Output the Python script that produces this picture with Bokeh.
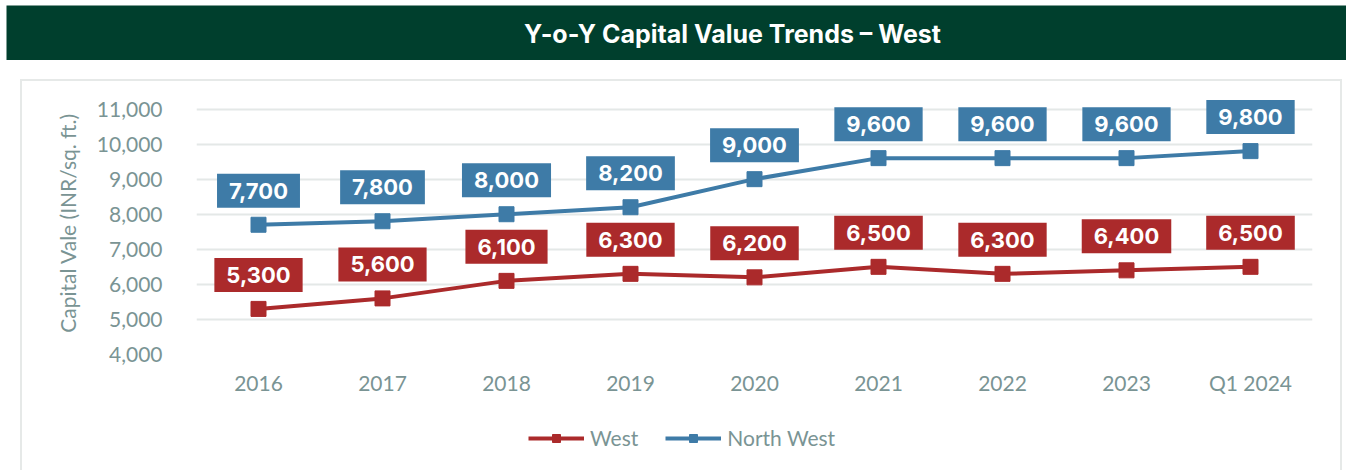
from bokeh.plotting import figure
from bokeh.models import (ColumnDataSource, Legend, LegendItem, FixedTicker,
                          NumeralTickFormatter, Label, Range1d)
from bokeh.core.properties import value
from bokeh.layouts import column
from bokeh.embed import file_html
from bokeh.resources import INLINE

categories = ["2016", "2017", "2018", "2019", "2020", "2021", "2022", "2023", "Q1 2024"]
west = [5300, 5600, 6100, 6300, 6200, 6500, 6300, 6400, 6500]
north_west = [7700, 7800, 8000, 8200, 9000, 9600, 9600, 9600, 9800]
y_ticks = [4000, 5000, 6000, 7000, 8000, 9000, 10000, 11000]
series_names = ["West", "North West"]

GREEN = "#003F2D"
RED = "#AB2A2B"
BLUE = "#3E7BA7"
GRAY = "#7A9494"
GRID = "#E4E8E7"
LABEL_FONT = "Lato"
BOLD_FONT = "Inter"

# Title bar
tf = figure(width=1340, height=55, toolbar_location=None, output_backend="svg",
            x_range=Range1d(0, 1340), y_range=Range1d(0, 55), min_border=0,
            x_axis_type=None, y_axis_type=None, frame_align=False,
            margin=(5, 0, 0, 6))
tf.outline_line_color = None
tf.background_fill_color = GREEN
tf.border_fill_color = GREEN
tf.xgrid.visible = False
tf.ygrid.visible = False
tf.add_layout(Label(x=726, y=27,
                    text="Y-o-Y Capital Value Trends \u2013 West",
                    text_align="center", text_baseline="middle",
                    text_font=BOLD_FONT, text_font_style="bold",
                    text_font_size="25px", text_color="white"))

# Main chart
p = figure(x_range=categories, y_range=Range1d(4000, 11500),
           frame_width=1116, frame_height=263,
           min_border_left=174, min_border_right=28, min_border_top=10, min_border_bottom=56,
           toolbar_location=None, output_backend="svg", frame_align=False)
p.outline_line_color = None
p.background_fill_color = "white"
p.border_fill_color = "white"
p.xgrid.visible = False
p.ygrid.grid_line_color = GRID
p.ygrid.grid_line_width = 2
p.yaxis.ticker = FixedTicker(ticks=y_ticks)
p.ygrid.ticker = FixedTicker(ticks=y_ticks)
p.yaxis.formatter = NumeralTickFormatter(format="0,0")

for ax in (p.xaxis[0], p.yaxis[0]):
    ax.axis_line_color = None
    ax.major_tick_line_color = None
    ax.minor_tick_line_color = None
    ax.major_label_text_font = LABEL_FONT
    ax.major_label_text_font_size = "21px"
    ax.major_label_text_color = GRAY
p.yaxis.major_label_standoff = 28
p.xaxis.major_label_standoff = 9
p.yaxis.axis_label = "Capital Vale (INR/sq. ft.)"
p.yaxis.axis_label_text_font = LABEL_FONT
p.yaxis.axis_label_text_font_size = "21px"
p.yaxis.axis_label_text_font_style = "normal"
p.yaxis.axis_label_text_color = GRAY
p.yaxis.axis_label_standoff = 14

src_w = ColumnDataSource(dict(x=categories, y=west, lbl=[f"{v:,}" for v in west]))
src_n = ColumnDataSource(dict(x=categories, y=north_west, lbl=[f"{v:,}" for v in north_west]))

for src, color in ((src_w, RED), (src_n, BLUE)):
    p.line("x", "y", source=src, line_color=color, line_width=4)
    p.scatter("x", "y", source=src, marker="square", size=15,
              fill_color=color, line_color=color)
    p.text("x", "y", text="lbl", source=src, y_offset=-34,
           text_align="center", text_baseline="middle",
           text_font=value(BOLD_FONT), text_font_style="bold",
           text_font_size="22px", text_color="white",
           background_fill_color=color, padding=(12, 9))

# Legend strip (inside the same bordered box); its series lie outside its visible range
lf = figure(width=1318, height=60, toolbar_location=None, output_backend="svg",
            x_range=categories, y_range=Range1d(20000, 21000), min_border=0,
            x_axis_type=None, y_axis_type=None, frame_align=False)
lf.outline_line_color = None
lf.background_fill_color = "white"
lf.border_fill_color = "white"
lf.xgrid.visible = False
lf.ygrid.visible = False
items = []
for name, src, color in zip(series_names, (src_w, src_n), (RED, BLUE)):
    ln = lf.line("x", "y", source=src, line_color=color, line_width=4)
    sq = lf.scatter("x", "y", source=src, marker="square", size=15,
                    fill_color=color, line_color=color)
    items.append(LegendItem(label=name, renderers=[ln, sq]))
legend = Legend(items=items, orientation="horizontal", location=(506, 20),
                glyph_width=56, glyph_height=20, label_standoff=6, spacing=27,
                padding=0, margin=0, border_line_color=None, background_fill_alpha=0,
                label_text_font=LABEL_FONT, label_text_font_size="21px",
                label_text_color=GRAY)
lf.add_layout(legend)

box = column(p, lf, spacing=0, margin=(19, 0, 0, 20),
             styles={"border": "2px solid #E6E9E8", "border-bottom": "none",
                     "background-color": "white"})

layout = column(tf, box, spacing=0)
open("out.html", "w").write(file_html(layout, INLINE))
